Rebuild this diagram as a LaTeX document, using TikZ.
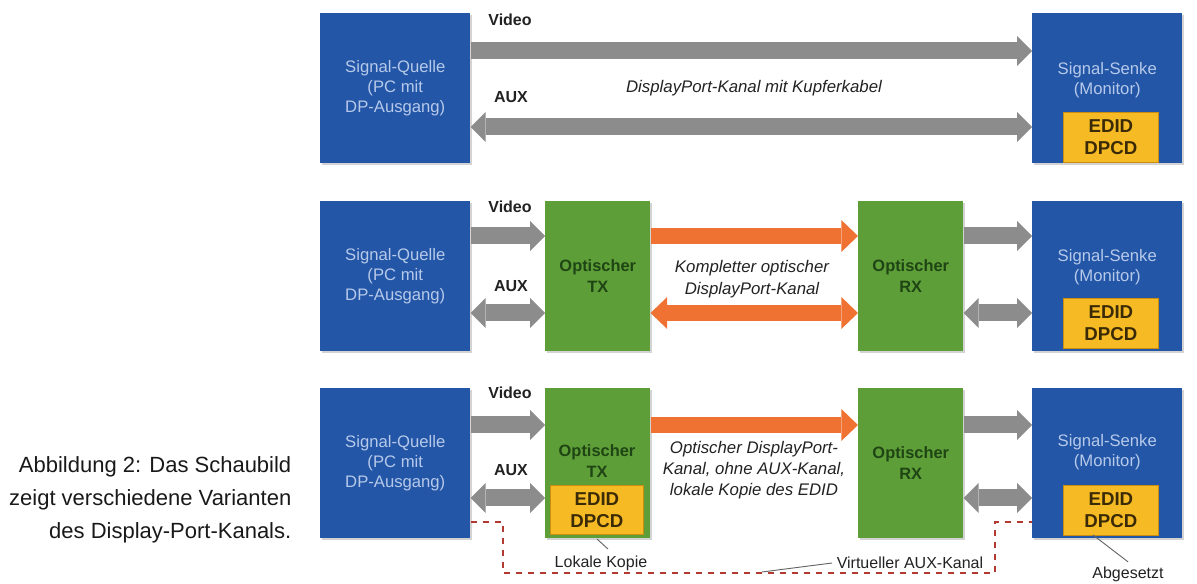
\documentclass[tikz,border=0pt]{standalone}
\usepackage{fontspec}
\setmainfont{Liberation Sans}
\usetikzlibrary{arrows.meta,shadows}

\definecolor{dpblue}{HTML}{2356A6}
\definecolor{dpgreen}{HTML}{5E9E38}
\definecolor{dporange}{HTML}{F07232}
\definecolor{dpyellow}{HTML}{F6BA24}
\definecolor{dpyellowdark}{HTML}{C98E10}
\definecolor{dpgray}{HTML}{8C8C8C}
\definecolor{bluetext}{HTML}{B6C9EA}
\definecolor{greentext}{HTML}{1F4514}
\definecolor{ediddark}{HTML}{3A2A05}
\definecolor{dpred}{HTML}{B23A32}
\definecolor{labeltext}{HTML}{222222}

\tikzset{
  boxshadow/.style={drop shadow={shadow xshift=1.5pt,shadow yshift=-1.5pt,opacity=0.35}},
  bluebox/.style={anchor=north west,inner sep=0pt,minimum width=112.5pt,minimum height=112.5pt,
    fill=dpblue,boxshadow,text=bluetext,align=center,font=\fontsize{12.5}{15}\selectfont},
  greenbox/.style={anchor=north west,inner sep=0pt,minimum width=78.75pt,minimum height=112.5pt,
    fill=dpgreen,boxshadow,text=greentext,align=center,font=\bfseries\fontsize{12.3}{15.5}\selectfont},
  edidbox/.style={anchor=north west,inner sep=0pt,minimum width=71.25pt,minimum height=37.5pt,
    fill=dpyellow,draw=dpyellowdark,line width=0.6pt,text=ediddark,align=center,
    font=\bfseries\fontsize{14}{16.5}\selectfont},
  sinktext/.style={text=bluetext,align=center,font=\fontsize{12.5}{15}\selectfont},
  chanlabel/.style={text=labeltext,font=\bfseries\fontsize{12}{14}\selectfont},
  chantext/.style={text=labeltext,align=center,font=\itshape\fontsize{12.6}{16}\selectfont},
  notetext/.style={text=labeltext,font=\fontsize{12}{14}\selectfont},
  pointer/.style={draw=black!60,line width=0.7pt},
  graytip/.tip={Triangle[width=22.5pt,length=11.25pt,line width=0pt]},
  orangetip/.tip={Triangle[width=24pt,length=12.5pt,line width=0pt]},
  grayarrow/.style={draw=dpgray,line width=12.75pt,-graytip},
  graydouble/.style={draw=dpgray,line width=12.75pt,graytip-graytip},
  orangearrow/.style={draw=dporange,line width=12pt,-orangetip},
  orangedouble/.style={draw=dporange,line width=12pt,orangetip-orangetip},
  virtaux/.style={draw=dpred,line width=1.6pt,dash pattern=on 5pt off 4pt},
}

\begin{document}
\begin{tikzpicture}[x=0.75pt,y=-0.75pt]
\useasboundingbox (0,0) rectangle (1197,584);

% heights of the signal lines
\coordinate (v1) at (0,51);  \coordinate (a1) at (0,127);
\coordinate (v2) at (0,236); \coordinate (a2) at (0,313);
\coordinate (v3) at (0,425); \coordinate (a3) at (0,498);
\coordinate (d3) at (0,522);

% ---------- copper channel ----------
\node[bluebox] (q1) at (320,13) {Signal-Quelle\\(PC mit\\DP-Ausgang)};
\node[bluebox] (s1) at (1032,13) {};
\node[sinktext] (s1t) at ([yshift=6pt]s1.center) {Signal-Senke\\(Monitor)};
\node[edidbox] (e1) at (1063,112) {EDID\\DPCD};

\draw[grayarrow]  (q1.east |- v1) -- (s1.west |- v1);
\draw[graydouble] (q1.east |- a1) -- (s1.west |- a1);
\node[chanlabel] (lv1) at (510,20) {Video};
\node[chanlabel] (la1) at (511,97) {AUX};
\node[chantext] (c1) at (754,88) {DisplayPort-Kanal mit Kupferkabel};

% ---------- complete optical channel ----------
\node[bluebox] (q2) at (320,201) {Signal-Quelle\\(PC mit\\DP-Ausgang)};
\node[greenbox] (t2) at (545,201) {Optischer\\TX};
\node[greenbox] (r2) at (858,201) {Optischer\\RX};
\node[bluebox] (s2) at (1032,201) {};
\node[sinktext] (s2t) at ([yshift=6.75pt]s2.center) {Signal-Senke\\(Monitor)};
\node[edidbox] (e2) at (1063,298) {EDID\\DPCD};

\draw[grayarrow]    (q2.east |- v2) -- (t2.west |- v2);
\draw[graydouble]   (q2.east |- a2) -- (t2.west |- a2);
\draw[orangearrow]  (t2.east |- v2) -- (r2.west |- v2);
\draw[orangedouble] (t2.east |- a2) -- (r2.west |- a2);
\draw[grayarrow]    (r2.east |- v2) -- (s2.west |- v2);
\draw[graydouble]   (r2.east |- a2) -- (s2.west |- a2);
\node[chanlabel] (lv2) at (510,207) {Video};
\node[chanlabel] (la2) at (511,286) {AUX};
\node[chantext] (c2) at (752,279) {Kompletter optischer\\DisplayPort-Kanal};

% ---------- optical channel with local EDID copy ----------
\node[bluebox] (q3) at (320,388) {Signal-Quelle\\(PC mit\\DP-Ausgang)};
\node[greenbox] (t3) at (545,388) {};
\node[text=greentext,align=center,font=\bfseries\fontsize{12.3}{15.5}\selectfont]
  (t3t) at (597,461) {Optischer\\TX};
\node[edidbox,minimum width=69.75pt,minimum height=36.75pt] (e3) at (550,485) {EDID\\DPCD};
\node[greenbox] (r3) at (858,388) {Optischer\\RX};
\node[bluebox] (s3) at (1032,388) {};
\node[sinktext] (s3t) at ([yshift=8.25pt]s3.center) {Signal-Senke\\(Monitor)};
\node[edidbox] (e4) at (1063,485) {EDID\\DPCD};

\draw[grayarrow]   (q3.east |- v3) -- (t3.west |- v3);
\draw[graydouble]  (q3.east |- a3) -- (t3.west |- a3);
\draw[orangearrow] (t3.east |- v3) -- (r3.west |- v3);
\draw[grayarrow]   (r3.east |- v3) -- (s3.west |- v3);
\draw[graydouble]  (r3.east |- a3) -- (s3.west |- a3);
\node[chanlabel] (lv3) at (510,393) {Video};
\node[chanlabel] (la3) at (511,470) {AUX};
\node[chantext] (c3) at (754,470) {Optischer DisplayPort-\\Kanal, ohne AUX-Kanal,\\lokale Kopie des EDID};

% virtual AUX channel
\coordinate (vk1) at (503,573);
\coordinate (vk2) at (995,522);
\draw[virtaux] (q3.east |- d3) -| (vk1) -| (vk2) -- (s3.west |- d3);

% annotations
\node[notetext] (nk) at (601,563) {Lokale Kopie};
\coordinate (nk0) at (597,539);
\coordinate (nk1) at (608,549);
\draw[pointer] (nk0) -- (nk1);
\node[notetext] (nv) at (910,563) {Virtueller AUX-Kanal};
\coordinate (nv0) at (762,572);
\draw[pointer] (nv.west) -- (nv0);
\node[notetext] (na) at (1128,574) {Abgesetzt};
\coordinate (na0) at (1093,535);
\draw[pointer] (na0) -- (na.north);

% caption
\node[anchor=east,align=right,text=black!90,font=\fontsize{16.5}{24.75}\selectfont]
  (cap) at (296,500) {Abbildung 2: Das Schaubild\\zeigt verschiedene Varianten\\des Display-Port-Kanals.};
\end{tikzpicture}
\end{document}
